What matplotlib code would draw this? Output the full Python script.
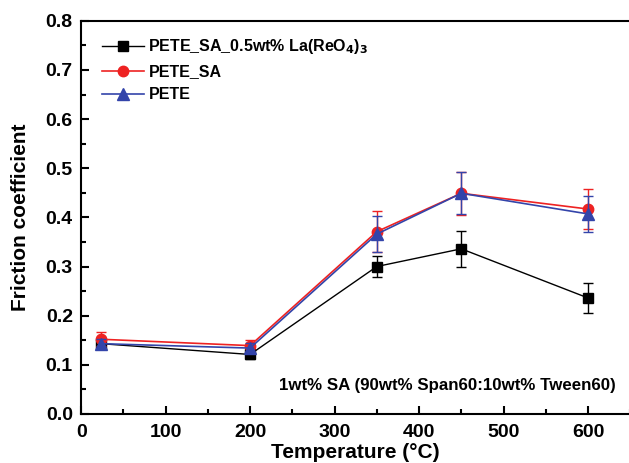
import matplotlib
matplotlib.use('Agg')
import matplotlib.pyplot as plt
from matplotlib.ticker import MultipleLocator

plt.rcParams['font.family'] = ['Liberation Sans', 'DejaVu Sans']
plt.rcParams['font.weight'] = 'bold'
plt.rcParams['mathtext.default'] = 'bf'

# temperatures (deg C)
temps = [23, 200, 350, 450, 600]

# PETE_SA_0.5wt% La(ReO4)3
la_mean = [0.143, 0.121, 0.300, 0.336, 0.236]
la_err = [0.010, 0.010, 0.021, 0.036, 0.030]

# PETE_SA
sa_mean = [0.152, 0.139, 0.371, 0.449, 0.417]
sa_err = [0.014, 0.012, 0.041, 0.044, 0.040]

# PETE
pete_mean = [0.143, 0.134, 0.366, 0.449, 0.407]
pete_err = [0.010, 0.010, 0.036, 0.043, 0.036]

series = [
    (la_mean, la_err, 'black', 's', 6.5, 1.0, 'PETE_SA_0.5wt% La(ReO$_4$)$_3$'),
    (sa_mean, sa_err, '#ee2222', 'o', 7.5, 1.2, 'PETE_SA'),
    (pete_mean, pete_err, '#3344aa', '^', 8, 1.2, 'PETE'),
]

fig = plt.figure(figsize=(6.29, 4.63), dpi=100)
ax = fig.add_axes([0.129, 0.106, 0.873, 0.849])

handles = []
for mean, err, col, mk, ms, lw, lab in series:
    ax.errorbar(temps, mean, yerr=err, color=col, fmt='none', capsize=3.5,
                elinewidth=1.0, capthick=1.0)
    line, = ax.plot(temps, mean, color=col, marker=mk, ms=ms, lw=lw, label=lab)
    handles.append(line)

ax.set_xlim(0, 650)
ax.set_ylim(0, 0.8)
ax.xaxis.set_major_locator(MultipleLocator(100))
ax.xaxis.set_minor_locator(MultipleLocator(50))
ax.yaxis.set_major_locator(MultipleLocator(0.1))
ax.yaxis.set_minor_locator(MultipleLocator(0.05))
ax.yaxis.set_major_formatter(plt.FormatStrFormatter('%.1f'))

ax.tick_params(which='major', direction='in', length=6, width=1.5, labelsize=14)
ax.tick_params(axis='x', which='major', pad=7)
ax.tick_params(axis='y', which='major', pad=6)
ax.tick_params(which='minor', direction='in', length=3.5, width=1.5)
ax.tick_params(top=False, right=False)
for s in ax.spines.values():
    s.set_linewidth(1.5)

ax.set_xlabel('Temperature (°C)', fontsize=15, fontweight='bold', labelpad=2)
ax.set_ylabel('Friction coefficient', fontsize=15, fontweight='bold', labelpad=11)

ax.text(0.973, 0.072, '1wt% SA (90wt% Span60:10wt% Tween60)', transform=ax.transAxes,
        ha='right', va='center', fontsize=12.2, fontweight='bold')

ax.legend(handles=handles, loc='upper left', bbox_to_anchor=(0.012, 0.995), frameon=False,
          fontsize=11.5, handlelength=2.6, handletextpad=0.3, labelspacing=0.5)

fig.savefig('out.png', dpi=100)
